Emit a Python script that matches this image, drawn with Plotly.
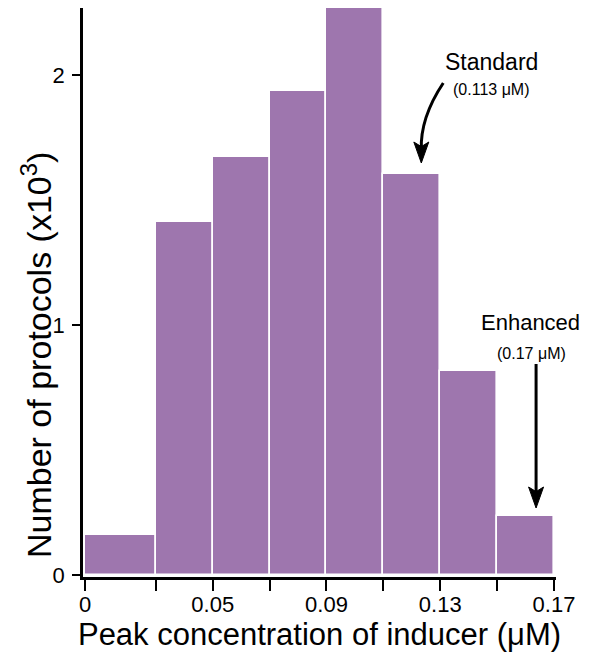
import plotly.graph_objects as go

# ---- data ----
bin_edges = [0.0, 0.03, 0.05, 0.07, 0.09, 0.11, 0.13, 0.15, 0.17]   # µM
counts_k = [0.16, 1.412, 1.672, 1.936, 2.276, 1.604, 0.816, 0.236]  # number of protocols (x10^3)
labeled_ticks = [0.0, 0.05, 0.09, 0.13, 0.17]
tick_text = ["0", "0.05", "0.09", "0.13", "0.17"]
y_ticks = [0, 1, 2]

# axis starts at a compressed "0" (first bin is drawn narrower than its width)
axis_zero_display = 0.0051
disp_edges = [axis_zero_display] + bin_edges[1:]

def to_disp(v):
    return axis_zero_display if v == 0 else v

centers = [(a + b) / 2 for a, b in zip(disp_edges[:-1], disp_edges[1:])]
widths = [b - a for a, b in zip(disp_edges[:-1], disp_edges[1:])]
major_vals = [to_disp(v) for v in labeled_ticks]
minor_vals = [to_disp(v) for v in bin_edges if all(abs(v - t) > 1e-9 for t in labeled_ticks)]

FONT = "Liberation Sans, Arial, Helvetica, sans-serif"
BAR = "#9E76AE"

fig = go.Figure()
fig.add_trace(go.Bar(
    x=centers, y=counts_k, width=widths,
    marker=dict(color=BAR, line=dict(color="white", width=1.6)),
    hoverinfo="skip", showlegend=False, cliponaxis=False,
))

ML, MR, W = 75, 33, 581
px_per_unit = 0.02 / 57.0
PX_Y = 250.0
fig.update_layout(
    width=W, height=649,
    margin=dict(l=ML, r=MR, t=0, b=80),
    paper_bgcolor="white", plot_bgcolor="white",
    bargap=0,
    font=dict(family=FONT, color="black"),
    xaxis=dict(
        range=[axis_zero_display - 2 * px_per_unit, 0.17 + 2 * px_per_unit],
        tickmode="array", tickvals=major_vals, ticktext=tick_text,
        ticks="outside", ticklen=11, tickwidth=2.4, tickcolor="black",
        minor=dict(tickmode="array", tickvals=minor_vals, ticks="outside",
                   ticklen=11, tickwidth=2.4, tickcolor="black", showgrid=False),
        ticklabelstandoff=-5,
        showline=True, linecolor="black", linewidth=2.8,
        showgrid=False, zeroline=False,
        tickfont=dict(size=22, family=FONT),
        title=dict(text="Peak concentration of inducer (\u03bcM)", font=dict(size=31, family=FONT), standoff=6),
    ),
    yaxis=dict(
        range=[-0.008, 2.268],
        tickmode="array", tickvals=y_ticks, ticktext=[str(v) for v in y_ticks],
        ticks="outside", ticklen=8, tickwidth=2.4, tickcolor="black",
        ticklabelstandoff=3,
        showline=True, linecolor="black", linewidth=2.8,
        showgrid=False, zeroline=False,
        tickfont=dict(size=22, family=FONT),
    ),
)

# helpers: page-pixel -> axis units (annotation placement only)
def dx(px):
    return axis_zero_display + (px - 85) * px_per_unit

def dy(py):
    return (575 - py) / PX_Y

def paper_x(px):
    return (px - 8 - ML) / (W - ML - MR)

def head(tip_x, tip_y, w=15, h=21):
    return (f"M {dx(tip_x)},{dy(tip_y)} L {dx(tip_x - w/2)},{dy(tip_y - h)} "
            f"L {dx(tip_x)},{dy(tip_y - h*0.78)} L {dx(tip_x + w/2)},{dy(tip_y - h)} Z")

# y-axis title (placed lower than axis centre, as in the reference)
fig.add_annotation(x=paper_x(36), y=dy(355), xref="paper", yref="y",
                   xanchor="center", yanchor="middle",
                   text="Number of protocols (x10<sup>3</sup>)", textangle=-90,
                   showarrow=False, font=dict(size=34, family=FONT))

# Standard annotation
fig.add_annotation(x=dx(492), y=dy(62), xref="x", yref="y", text="Standard",
                   showarrow=False, font=dict(size=23, family=FONT))
fig.add_annotation(x=dx(492), y=dy(89), xref="x", yref="y", text="(0.113 \u03bcM)",
                   showarrow=False, font=dict(size=16, family=FONT))
fig.add_shape(type="path", xref="x", yref="y",
              path=f"M {dx(444)},{dy(83)} C {dx(430)},{dy(104)} {dx(421)},{dy(125)} {dx(422)},{dy(150)}",
              line=dict(color="black", width=3))
fig.add_shape(type="path", xref="x", yref="y", path=head(422, 163),
              fillcolor="black", line=dict(color="black", width=1))

# Enhanced annotation
fig.add_annotation(x=dx(531), y=dy(322), xref="x", yref="y", text="Enhanced",
                   showarrow=False, font=dict(size=22, family=FONT))
fig.add_annotation(x=dx(532), y=dy(353), xref="x", yref="y", text="(0.17 \u03bcM)",
                   showarrow=False, font=dict(size=16, family=FONT))
fig.add_shape(type="line", xref="x", yref="y",
              x0=dx(537), y0=dy(364), x1=dx(537), y1=dy(495),
              line=dict(color="black", width=3))
fig.add_shape(type="path", xref="x", yref="y", path=head(537, 508),
              fillcolor="black", line=dict(color="black", width=1))

fig.write_html("out.html")
